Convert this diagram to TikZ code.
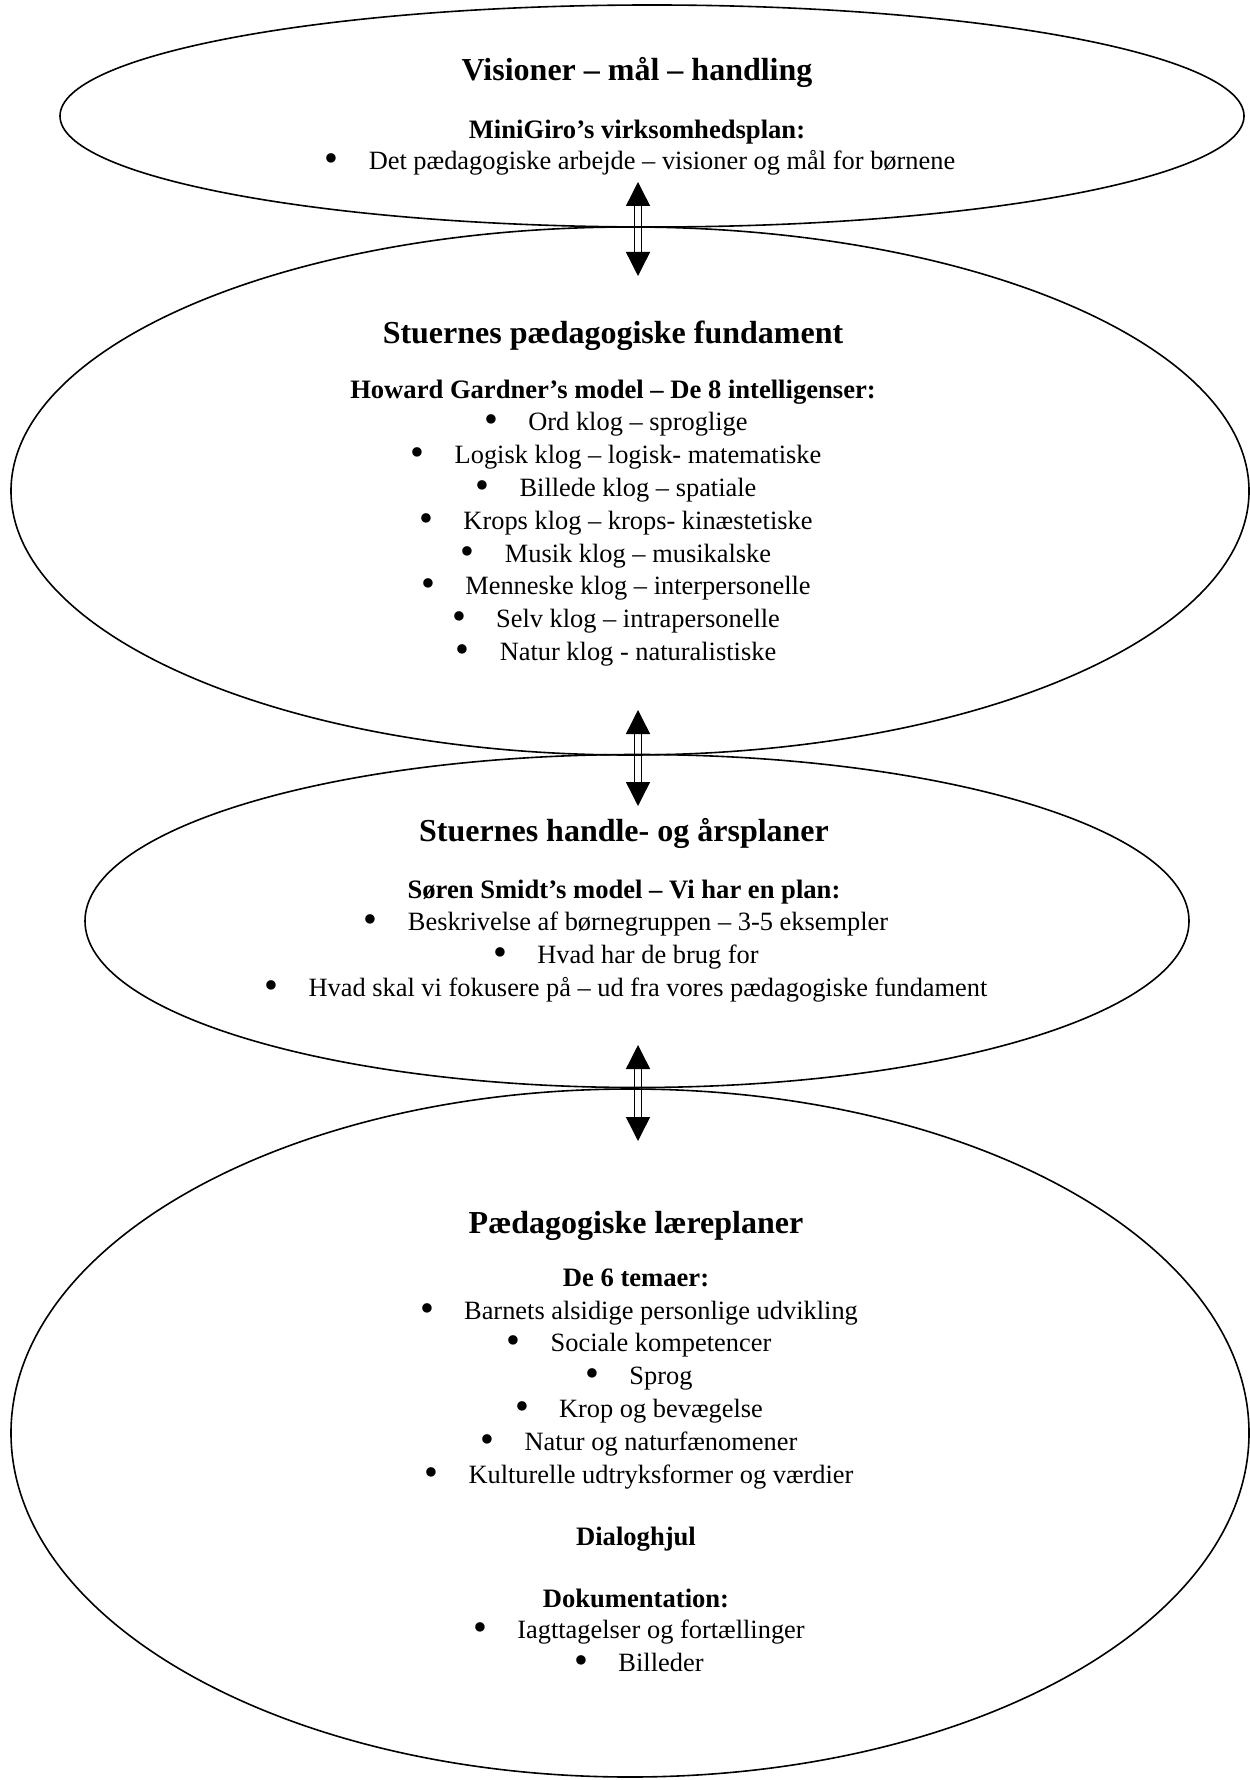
\documentclass[tikz,border=0pt]{standalone}
\usepackage{fontspec}
\setmainfont{Liberation Serif}
\usepackage{tikz}
\usetikzlibrary{positioning,shapes.geometric,arrows.meta}
\tikzset{plan/.style={ellipse,draw,line width=0.8pt,inner sep=0pt},
	 head/.style={font=\fontsize{16}{18}\selectfont\bfseries,anchor=mid,inner sep=0pt},
	 sub/.style={font=\fontsize{13.3}{15}\selectfont\bfseries,anchor=mid,inner sep=0pt},
	 item/.style={font=\fontsize{13.2}{15}\selectfont,anchor=mid,inner sep=0pt},
	 link/.style={double,double distance=2.8pt,line width=0.7pt,
	 {Triangle[length=12pt,width=12pt]}-{Triangle[length=12pt,width=12pt]}}
	 }
\newcommand{\bul}[1]{\makebox[22pt][l]{\raisebox{-0.12ex}{\scalebox{1.5}{\textbullet}}}#1}

\begin{document}
\begin{tikzpicture}[x=0.5pt,y=-0.5pt] % MiniGiro: visioner -> laereplaner
	\useasboundingbox (0,0) rectangle (1249,1780);
	% arrow ends
	\coordinate (a1) at (638,182);
	\coordinate (b1) at (638,276);
	\coordinate (a2) at (638,710);
	\coordinate (b2) at (638,806);
	\coordinate (a3) at (638,1045);
	\coordinate (b3) at (638,1141);
	\draw[link] (a1) -- (b1);
	\draw[link] (a2) -- (b2);
	\draw[link] (a3) -- (b3);
	% the four levels
	\node[plan,minimum width=592pt,minimum height=111pt] (vis) at (652,116) {};
	\node[plan,minimum width=619pt,minimum height=264pt] (fund) at (630,491) {};
	\node[plan,minimum width=552pt,minimum height=166.5pt] (aars) at (637,921) {};
	\node[plan,minimum width=619pt,minimum height=344pt] (laer) at (630,1433) {};
	% visioner
	\node[head] (vis1) at (637,76) {Visioner – mål – handling};
	\node[sub] (vis2) at (637,134) {MiniGiro’s virksomhedsplan:};
	\node[item] (vis3) at (640,165) {\bul{Det pædagogiske arbejde – visioner og mål for børnene}};
	% fundament
	\node[head] (fund1) at (613,339) {Stuernes pædagogiske fundament};
	\node[sub] (fund2) at (613,394) {Howard Gardner’s model – De 8 intelligenser:};
	\node[item] (g1) at (616,426) {\bul{Ord klog – sproglige}};
	\node[item] (g2) at (616,459) {\bul{Logisk klog – logisk- matematiske}};
	\node[item] (g3) at (616,492) {\bul{Billede klog – spatiale}};
	\node[item] (g4) at (616,525) {\bul{Krops klog – krops- kinæstetiske}};
	\node[item] (g5) at (616,558) {\bul{Musik klog – musikalske}};
	\node[item] (g6) at (616,590) {\bul{Menneske klog – interpersonelle}};
	\node[item] (g7) at (616,623) {\bul{Selv klog – intrapersonelle}};
	\node[item] (g8) at (616,656) {\bul{Natur klog - naturalistiske}};
	% handle- og aarsplaner
	\node[head] (aars1) at (624,837) {Stuernes handle- og årsplaner};
	\node[sub] (aars2) at (624,894) {Søren Smidt’s model – Vi har en plan:};
	\node[item] (p1) at (626,926) {\bul{Beskrivelse af børnegruppen – 3-5 eksempler}};
	\node[item] (p2) at (626,959) {\bul{Hvad har de brug for}};
	\node[item] (p3) at (626,992) {\bul{Hvad skal vi fokusere på – ud fra vores pædagogiske fundament}};
	% laereplaner
	\node[head] (laer1) at (636,1229) {Pædagogiske læreplaner};
	\node[sub] (laer2) at (636,1282) {De 6 temaer:};
	\node[item] (t1) at (639,1315) {\bul{Barnets alsidige personlige udvikling}};
	\node[item] (t2) at (639,1347) {\bul{Sociale kompetencer}};
	\node[item] (t3) at (639,1380) {\bul{Sprog}};
	\node[item] (t4) at (639,1413) {\bul{Krop og bevægelse}};
	\node[item] (t5) at (639,1446) {\bul{Natur og naturfænomener}};
	\node[item] (t6) at (639,1479) {\bul{Kulturelle udtryksformer og værdier}};
	\node[sub] (laer3) at (636,1541) {Dialoghjul};
	\node[sub] (laer4) at (636,1603) {Dokumentation:};
	\node[item] (d1) at (639,1634) {\bul{Iagttagelser og fortællinger}};
	\node[item] (d2) at (639,1667) {\bul{Billeder}};
\end{tikzpicture}
\end{document}
